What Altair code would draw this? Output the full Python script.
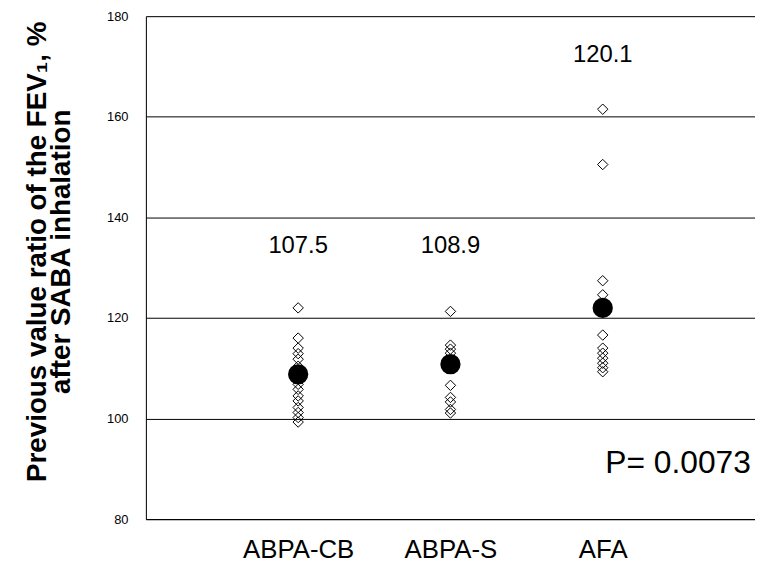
import altair as alt
import pandas as pd

categories = ["ABPA-CB", "ABPA-S", "AFA"]

cb_values = [122.0, 116.0, 114.0, 112.9, 111.8, 110.4, 106.8, 105.8, 104.5, 103.5, 102.2, 101.2, 100.2, 99.3]
s_values = [121.3, 114.6, 113.8, 113.0, 106.6, 104.2, 103.3, 101.8, 101.1]
afa_values = [161.5, 150.5, 127.4, 124.6, 116.6, 114.0, 113.0, 112.0, 111.0, 110.1, 109.3]

mean_values = [108.8, 110.8, 122.0]
label_texts = ["107.5", "108.9", "120.1"]
label_y = [133.0, 133.0, 170.9]

p_text = "P= 0.0073"
p_y = 89.2

FONT = "Liberation Sans"

rows = []
for cat, vals in zip(categories, [cb_values, s_values, afa_values]):
    for v in vals:
        rows.append({"group": cat, "value": v})
pts = pd.DataFrame(rows)
means = pd.DataFrame({"group": categories, "value": mean_values})
labels = pd.DataFrame({"group": categories, "text": label_texts, "y": label_y})
pdf = pd.DataFrame({"group": ["AFA"], "text": [p_text], "y": [p_y]})

xscale = alt.Scale(domain=categories, type="point", padding=1)
yscale = alt.Scale(domain=[80, 180], nice=False)

x_enc = alt.X("group:N", scale=xscale, sort=categories, axis=alt.Axis(
    title=None, labelAngle=0, labelFontSize=26, labelFont=FONT, labelColor="black",
    ticks=False, labelPadding=18, domainColor="black", grid=False))

y_axis = alt.Axis(
    title=["Previous value ratio of the FEV\u2081, %", "after SABA inhalation"],
    titleFont=FONT, titleFontSize=28, titleFontWeight="bold", titleColor="black",
    titleLineHeight=25, titlePadding=31, titleY=237,
    values=[80, 100, 120, 140, 160, 180], labelFont=FONT, labelFontSize=13,
    labelColor="black", labelPadding=18, ticks=False, domainColor="black",
    grid=True, gridColor="black", gridOpacity=1, gridWidth=1)

points = alt.Chart(pts).mark_point(shape="diamond", filled=False, stroke="black",
                                   strokeWidth=1, size=110, opacity=1).encode(
    x=x_enc, y=alt.Y("value:Q", scale=yscale, axis=y_axis))

mean_pts = alt.Chart(means).mark_point(shape="circle", filled=True, fill="black",
                                       stroke="black", size=340, opacity=1).encode(
    x=alt.X("group:N", scale=xscale, sort=categories),
    y=alt.Y("value:Q", scale=yscale))

mean_labels = alt.Chart(labels).mark_text(font=FONT, fontSize=24, color="black",
                                          baseline="alphabetic", align="center").encode(
    x=alt.X("group:N", scale=xscale, sort=categories),
    y=alt.Y("y:Q", scale=yscale), text="text:N")

p_label = alt.Chart(pdf).mark_text(font=FONT, fontSize=32, color="black",
                                   baseline="alphabetic", align="center", dx=76).encode(
    x=alt.X("group:N", scale=xscale, sort=categories),
    y=alt.Y("y:Q", scale=yscale), text="text:N")

chart = alt.layer(points, mean_pts, mean_labels, p_label).properties(
    width=614, height=507, padding={"left": 15, "top": 0, "right": 0, "bottom": 0}
).configure_view(stroke=None).configure(background="white")

chart.save("out.html", embed_options={"renderer": "svg", "actions": False})
